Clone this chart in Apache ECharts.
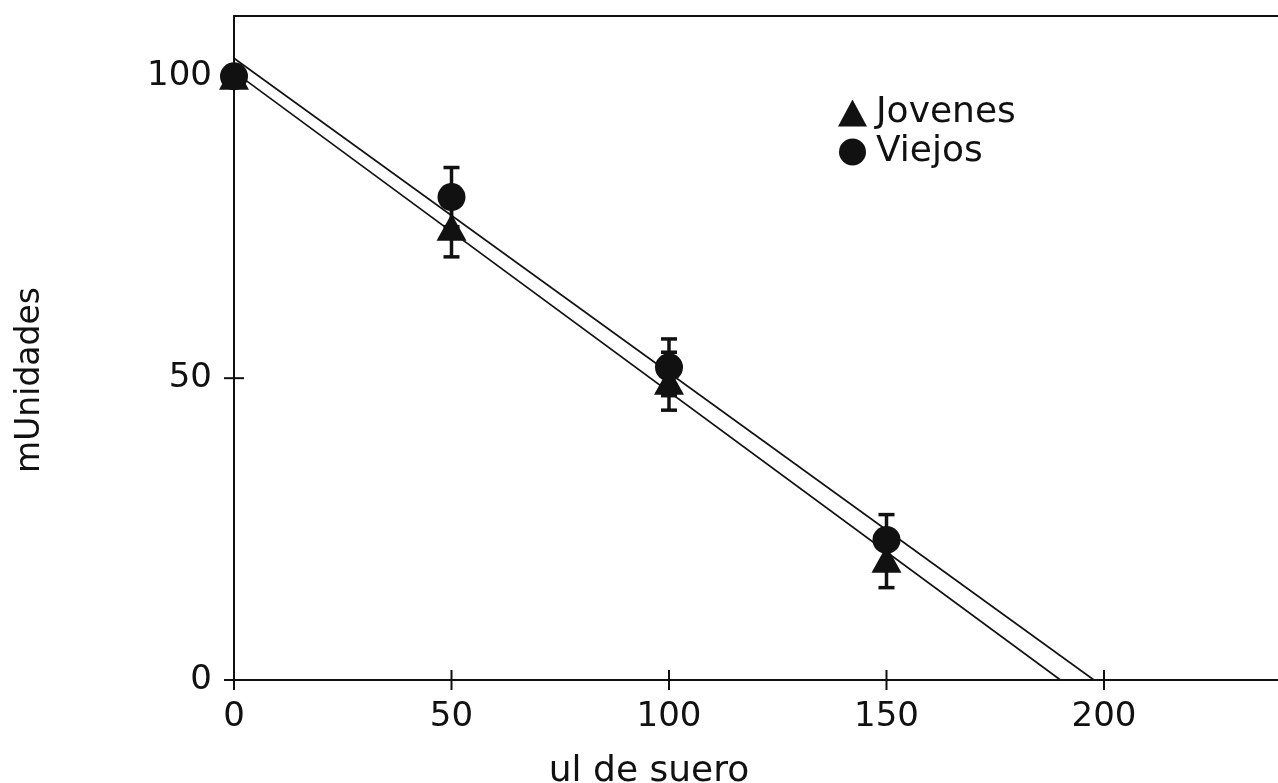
<!DOCTYPE html>
<html>
<head>
<meta charset="utf-8">
<script src="https://cdn.jsdelivr.net/npm/echarts@6/dist/echarts.min.js"></script>
<style>
  html, body { margin: 0; padding: 0; background: #fff; }
  #chart { width: 1278px; height: 783px; }
</style>
</head>
<body>
<div id="chart"></div>
<script>
// doses (ul de suero)
const dosis = [0, 50, 100, 150];

// Jovenes: triangles, error shown below
const jovenes = [100, 75, 49.5, 20];
const jovenesErr = [0, 4.9, 4.8, 4.7];

// Viejos: circles, error shown above
const viejos = [100, 80, 51.8, 23.2];
const viejosErr = [0, 4.9, 4.7, 4.2];

// fitted lines, end points
const jovenesFitX = [0, 190];
const jovenesFitY = [100.8, 0];
const viejosFitX = [0, 197.7];
const viejosFitY = [103, 0];

const xTicks = [0, 50, 100, 150, 200];
const yTicks = [0, 50, 100];

const FONT = "DejaVu Sans";
const INK = "#111";

const pairs = (xs, ys) => xs.map((x, i) => [x, ys[i]]);
const triples = (xs, ys, es) => xs.map((x, i) => [x, ys[i], es[i]]);

const errorBars = (params, api) => {
    const x = api.value(0);
    const y = api.value(1);
    const e = api.value(2);
    if (!e) return;
    const top = api.coord([x, y + e]);
    const bot = api.coord([x, y - e]);
    const half = 8;
    const style = { stroke: INK, lineWidth: 3.5 };
    return {
        type: "group",
        children: [
            { type: "line", shape: { x1: top[0], y1: top[1], x2: bot[0], y2: bot[1] }, style },
            { type: "line", shape: { x1: top[0] - half, y1: top[1], x2: top[0] + half, y2: top[1] }, style },
            { type: "line", shape: { x1: bot[0] - half, y1: bot[1], x2: bot[0] + half, y2: bot[1] }, style }
        ]
    };
};

// old plotting package draws ticks crossing the axis line
const crossTicks = (params, api) => {
    const len = 10;
    const style = { stroke: INK, lineWidth: 2 };
    const children = [];
    xTicks.forEach(v => {
        const p = api.coord([v, 0]);
        children.push({ type: "line", shape: { x1: p[0], y1: p[1] - len, x2: p[0], y2: p[1] + len }, style });
    });
    yTicks.forEach(v => {
        const p = api.coord([0, v]);
        children.push({ type: "line", shape: { x1: p[0] - len, y1: p[1], x2: p[0] + len, y2: p[1] }, style });
    });
    return { type: "group", children };
};

const chart = echarts.init(document.getElementById("chart"));

const option = {
    backgroundColor: "#fff",
    animation: false,
    grid: { left: 234, right: 0, top: 16, bottom: 103 },
    xAxis: [
        {
            type: "value",
            min: 0,
            max: 240,
            interval: 50,
            position: "bottom",
            splitLine: { show: false },
            axisLine: { show: true, lineStyle: { color: INK, width: 2 } },
            axisTick: { show: false },
            axisLabel: { show: true, customValues: xTicks, margin: 20, fontFamily: FONT, fontSize: 34, color: INK }
        },
        {
            type: "value",
            min: 0,
            max: 240,
            position: "top",
            splitLine: { show: false },
            axisLine: { show: true, lineStyle: { color: INK, width: 2 } },
            axisTick: { show: false },
            axisLabel: { show: false }
        }
    ],
    yAxis: {
        type: "value",
        min: 0,
        max: 110,
        interval: 50,
        position: "left",
        splitLine: { show: false },
        axisLine: { show: true, lineStyle: { color: INK, width: 2 } },
        axisTick: { show: false },
        axisLabel: { show: true, customValues: yTicks, margin: 22, fontFamily: FONT, fontSize: 34, color: INK }
    },
    legend: {
        orient: "vertical",
        left: 838,
        top: 95,
        padding: 0,
        itemWidth: 29,
        itemHeight: 27,
        itemGap: 3,
        textStyle: { fontFamily: FONT, fontSize: 36, color: INK, lineHeight: 36, padding: [0, 0, 0, 4] },
        data: [
            { name: "Jovenes", icon: "triangle" },
            { name: "Viejos", icon: "circle" }
        ]
    },
    graphic: [
        {
            type: "text",
            x: 649,
            y: 772,
            style: { text: "ul de suero", align: "center", verticalAlign: "middle", fontFamily: FONT, fontSize: 36, fill: INK }
        },
        {
            type: "text",
            x: 30,
            y: 380,
            rotation: Math.PI / 2,
            style: { text: "mUnidades", align: "center", verticalAlign: "middle", fontFamily: FONT, fontSize: 33, fill: INK }
        }
    ],
    series: [
        {
            name: "ticks",
            type: "custom",
            renderItem: crossTicks,
            data: [[0, 0]],
            silent: true,
            z: 1
        },
        {
            name: "ajuste viejos",
            type: "line",
            data: pairs(viejosFitX, viejosFitY),
            showSymbol: false,
            lineStyle: { color: INK, width: 1.6 },
            z: 2
        },
        {
            name: "ajuste jovenes",
            type: "line",
            data: pairs(jovenesFitX, jovenesFitY),
            showSymbol: false,
            lineStyle: { color: INK, width: 1.6 },
            z: 2
        },
        {
            name: "err jovenes",
            type: "custom",
            renderItem: errorBars,
            data: triples(dosis, jovenes, jovenesErr),
            z: 3
        },
        {
            name: "err viejos",
            type: "custom",
            renderItem: errorBars,
            data: triples(dosis, viejos, viejosErr),
            z: 3
        },
        {
            name: "Jovenes",
            type: "scatter",
            symbol: "triangle",
            symbolSize: [30, 27],
            data: pairs(dosis, jovenes),
            itemStyle: { color: INK, opacity: 1 },
            z: 4
        },
        {
            name: "Viejos",
            type: "scatter",
            symbol: "circle",
            symbolSize: 28,
            data: pairs(dosis, viejos),
            itemStyle: { color: INK, opacity: 1 },
            z: 5
        }
    ]
};

chart.setOption(option);
window.addEventListener("resize", () => chart.resize());
</script>
</body>
</html>
